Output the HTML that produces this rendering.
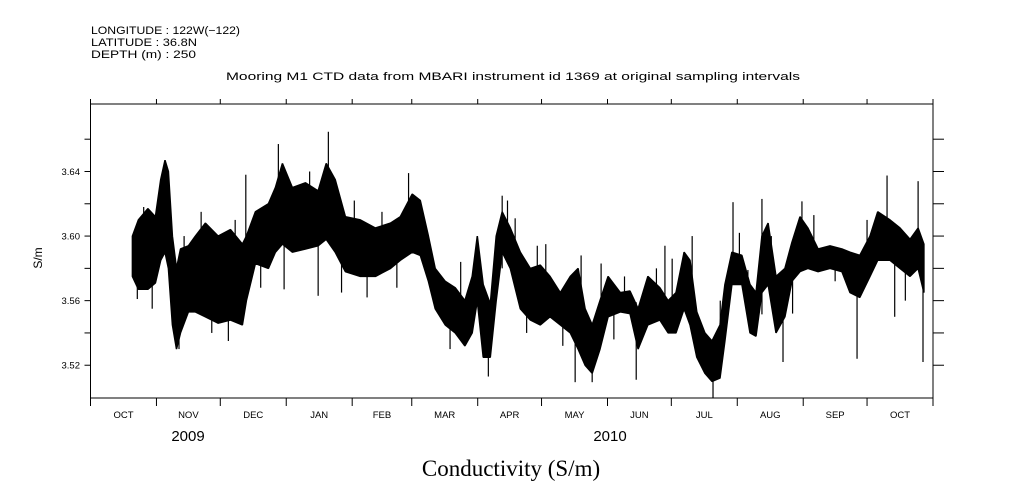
<!DOCTYPE html>
<html><head><meta charset="utf-8"><style>
html,body{margin:0;padding:0;background:#fff;}
svg{display:block;font-family:"Liberation Sans",sans-serif;}
</style></head><body>
<svg id="chart" width="1009" height="504" viewBox="0 0 1009 504" xmlns="http://www.w3.org/2000/svg">
<rect width="1009" height="504" fill="#fff"/>
<g font-size="11" fill="#000">
<text x="91" y="34" textLength="149" lengthAdjust="spacingAndGlyphs">LONGITUDE : 122W(−122)</text>
<text x="91" y="46" textLength="106" lengthAdjust="spacingAndGlyphs">LATITUDE : 36.8N</text>
<text x="91" y="58" textLength="105" lengthAdjust="spacingAndGlyphs">DEPTH (m) : 250</text>
</g>
<text x="226" y="80" font-size="11" textLength="574" lengthAdjust="spacingAndGlyphs">Mooring M1 CTD data from MBARI instrument id 1369 at original sampling intervals</text>
<g id="plot"></g>
<text transform="translate(42,258) rotate(-90)" text-anchor="middle" font-size="12">S/m</text>
<text x="188" y="441" text-anchor="middle" font-size="15">2009</text>
<text x="610" y="441" text-anchor="middle" font-size="15">2010</text>
<text x="511" y="476" text-anchor="middle" font-size="23" font-family="Liberation Serif, serif">Conductivity (S/m)</text>
</svg>
<script>
const monthLabels=["OCT","NOV","DEC","JAN","FEB","MAR","APR","MAY","JUN","JUL","AUG","SEP","OCT"];
const monthDays=[31,30,31,31,28,31,30,31,30,31,31,30,31];
const yTicks=[3.52,3.54,3.56,3.58,3.60,3.62,3.64,3.66];
const yLabels=["3.52","","3.56","","3.60","","3.64",""];
const days=[19.7,22.5,27,30.5,33,35,36.6,38.5,40.4,42.3,46,49.3,54,60,65.8,71.4,73.3,77.5,83.6,86.9,90.2,94.9,101,107,110.8,115,119.8,126.8,133.9,141,145.6,151.2,155,158.8,162,166.7,171.4,176,179.4,181.8,184.6,187.9,190.7,193.5,197.3,202,206.7,211.4,216,220.8,225.5,229.2,232.5,235.8,239.5,243.3,249,253.6,257.4,262,267.6,271.5,275.2,279,281.8,285,288.8,292.1,295.9,298.2,301.5,306.2,310,312.8,315.6,318.5,322.2,326.4,329.7,333.5,337.2,342,347.6,353.2,357,361.6,366.4,370,375.8,380.5,385.2,389,391.7];
const lowVals=[3.575,3.567,3.567,3.571,3.585,3.590,3.580,3.545,3.530,3.540,3.553,3.553,3.550,3.546,3.548,3.545,3.560,3.583,3.580,3.590,3.595,3.590,3.592,3.594,3.598,3.590,3.578,3.575,3.575,3.580,3.585,3.590,3.588,3.572,3.555,3.545,3.540,3.532,3.540,3.560,3.525,3.525,3.560,3.590,3.580,3.555,3.548,3.545,3.550,3.545,3.540,3.530,3.520,3.515,3.530,3.550,3.553,3.552,3.530,3.545,3.548,3.540,3.540,3.555,3.545,3.525,3.515,3.510,3.512,3.535,3.570,3.570,3.540,3.538,3.565,3.570,3.540,3.550,3.572,3.578,3.580,3.578,3.580,3.578,3.565,3.562,3.575,3.585,3.585,3.580,3.575,3.580,3.565];
const highVals=[3.600,3.610,3.617,3.612,3.635,3.647,3.640,3.600,3.580,3.592,3.594,3.600,3.608,3.600,3.604,3.595,3.600,3.615,3.620,3.630,3.645,3.630,3.633,3.628,3.645,3.635,3.612,3.610,3.605,3.608,3.612,3.626,3.622,3.600,3.580,3.572,3.568,3.560,3.575,3.600,3.570,3.558,3.600,3.615,3.605,3.590,3.580,3.582,3.575,3.565,3.575,3.580,3.555,3.545,3.560,3.575,3.565,3.566,3.555,3.575,3.568,3.560,3.565,3.590,3.585,3.553,3.540,3.535,3.545,3.570,3.590,3.588,3.570,3.565,3.600,3.608,3.575,3.580,3.596,3.612,3.605,3.592,3.594,3.592,3.590,3.588,3.600,3.615,3.610,3.605,3.598,3.605,3.595];
const spikeDays=[111.8,88.3,41.6,64.8,107,91,73,22,149.5,187,193.5,227.8,235.8,230.6,240,256.5,266,273.4,210,199.6,282.8,292.6,302,315.6,325.5,374.4,389,391.3,360.3,334.4,25,29,44,52,57,68,80,98,103,118,124,130,137,144,156,169,174,196,205,214,222,246,251,260,270,296,305,309,320,330,340,350,365,378,383];
const spikeVals=[3.6646,3.657,3.530,3.535,3.563,3.567,3.638,3.561,3.639,3.513,3.625,3.5095,3.5095,3.588,3.583,3.511,3.580,3.586,3.594,3.611,3.600,3.500,3.621,3.623,3.522,3.6375,3.634,3.522,3.524,3.6215,3.618,3.555,3.600,3.615,3.540,3.610,3.568,3.620,3.640,3.565,3.622,3.562,3.615,3.568,3.615,3.530,3.584,3.622,3.540,3.595,3.532,3.536,3.575,3.560,3.594,3.560,3.602,3.552,3.600,3.552,3.613,3.572,3.610,3.550,3.560];

const NS="http://www.w3.org/2000/svg";
const L=90.5,R=933,T=104,B=398,totalDays=396;
const yMin=3.4997,yMax=3.6818;
function xS(d){return L+(d/totalDays)*(R-L);}
function yS(v){return B-(v-yMin)/(yMax-yMin)*(B-T);}
const g=document.getElementById('plot');
function mk(tag,attrs){const e=document.createElementNS(NS,tag);for(const k in attrs)e.setAttribute(k,attrs[k]);g.appendChild(e);return e;}

let pts=[];
for(let i=0;i<days.length;i++)pts.push(xS(days[i]).toFixed(1)+","+yS(highVals[i]).toFixed(1));
for(let i=days.length-1;i>=0;i--)pts.push(xS(days[i]).toFixed(1)+","+yS(lowVals[i]).toFixed(1));
const band=mk('polygon',{points:pts.join(" "),fill:"#000",stroke:"#000","stroke-width":"1.5","stroke-linejoin":"bevel"});



for(let i=0;i<spikeDays.length;i++){
  let d=spikeDays[i],j=0;
  while(j<days.length-1&&days[j+1]<d)j++;
  const mid=(lowVals[j]+highVals[j])/2;
  const s=mk('line',{x1:xS(d),x2:xS(d),y1:yS(mid),y2:yS(spikeVals[i]),stroke:"#000","stroke-width":"1.2"});
  
  
}

const fr=mk('rect',{x:L,y:T,width:R-L,height:B-T,fill:"none",stroke:"#000","stroke-width":"1"});



for(let i=0;i<yTicks.length;i++){
  const y=yS(yTicks[i]);
  const t1=mk('line',{x1:L-6,x2:L,y1:y,y2:y,stroke:"#000"});
  
  
  const t2=mk('line',{x1:R,x2:R+11,y1:y,y2:y,stroke:"#000"});
  
  
  if(yLabels[i]){
    const tx=mk('text',{x:80,y:y+3.5,"text-anchor":"end","font-size":"9.5"});
    tx.textContent=yLabels[i];
    
    
  }
}
let cum=0;
for(let i=0;i<=monthDays.length;i++){
  const x=xS(cum);
  const b=mk('line',{x1:x,x2:x,y1:B,y2:B+8,stroke:"#000"});
  
  
  const t=mk('line',{x1:x,x2:x,y1:T-5,y2:T,stroke:"#000"});
  
  
  if(i<monthDays.length){
    const lx=xS(cum+monthDays[i]/2);
    const tx=mk('text',{x:lx,y:418,"text-anchor":"middle","font-size":"9.5"});
    tx.textContent=monthLabels[i];
    
    
    cum+=monthDays[i];
  }
}
</script>
</body></html>
